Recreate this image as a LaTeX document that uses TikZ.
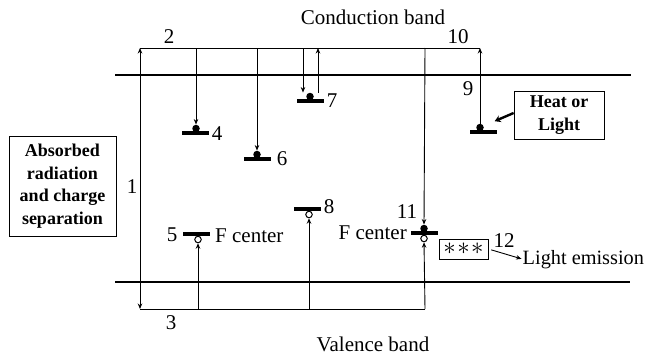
\documentclass[tikz,border=0pt]{standalone}
\usepackage{fontspec}
\setmainfont{Liberation Serif}
\usetikzlibrary{arrows.meta}
\begin{document}
\begin{tikzpicture}[x=1pt,y=-1pt,
  thin/.style={line width=0.9pt},
  arr/.style={thin,-{Stealth[length=5.5pt,width=4.5pt]}},
  dblarr/.style={thin,{Stealth[length=5.5pt,width=4.5pt]}-{Stealth[length=5.5pt,width=4.5pt]}},
  thickarr/.style={line width=2.4pt,-{Stealth[length=6pt,width=7pt]}},
  band/.style={line width=2.4pt},
  bar/.style={rectangle,fill=black,inner sep=0pt,minimum width=27pt,minimum height=3.6pt},
  edot/.style={circle,fill=black,inner sep=0pt,minimum size=7.5pt},
  hole/.style={circle,draw,fill=white,line width=1pt,inner sep=0pt,minimum size=6.5pt},
  lbl/.style={font=\fontsize{21}{24}\selectfont,inner sep=0pt},
  bbox/.style={draw,line width=0.8pt,font=\bfseries\fontsize{18}{22.5}\selectfont,align=center,inner sep=0pt}]
\useasboundingbox (0,0) rectangle (647,356);
% bands
\coordinate (cbl) at (115,75); \coordinate (cbr) at (631,75);
\coordinate (vbl) at (115,282); \coordinate (vbr) at (630,282);
\draw[band] (cbl) -- (cbr);
\draw[band] (vbl) -- (vbr);
\node[lbl,anchor=base] (cb) at (373,24) {Conduction band};
\node[lbl,anchor=base] (vb) at (373,351) {Valence band};
% transfer lines
\coordinate (t1) at (140,48); \coordinate (t10) at (480,48);
\coordinate (b1) at (140,309); \coordinate (b11) at (425,309);
\coordinate (t4) at (196,48); \coordinate (t6) at (257,48);
\coordinate (t7a) at (303,48); \coordinate (t7b) at (318,48);
\coordinate (t11) at (425,48);
\coordinate (b5) at (198,309); \coordinate (b8) at (309,309);
\draw[thin] (t1) -- (t10);
\draw[thin] (b1) -- (b11);
\draw[dblarr] (b1) -- (t1);
% levels
\node[bar] (L4) at (195,133) {};
\node[edot] (e4) at (196,128.5) {};
\node[bar] (L6) at (257,159) {};
\node[edot] (e6) at (257,154.5) {};
\node[bar] (L7) at (310,101) {};
\node[edot] (e7) at (310,96.5) {};
\node[bar] (L9) at (483,132) {};
\node[edot] (e9) at (480,127.5) {};
\node[bar] (L5) at (196,234) {};
\node[hole] (h5) at (198,239.5) {};
\node[bar] (L8) at (307,209) {};
\node[hole] (h8) at (309,214.5) {};
\node[bar] (L11) at (424,233) {};
\node[edot] (e11) at (424,228.5) {};
\node[hole] (h11) at (424,238.5) {};
% transitions
\draw[arr] (t4) -- (e4.north);
\draw[arr] (t6) -- (e6.north);
\draw[arr] (t7a) -- (t7a|-e7.north);
\draw[arr] (t7b|-e7.north) -- (t7b);
\draw[arr] (e9.north) -- (t10);
\draw[arr] (t11) -- (e11.north);
\draw[arr] (b5) -- (h5.south);
\draw[arr] (b8) -- (h8.south);
\draw[arr] (b11) -- (h11.south);
% labels
\node[lbl,anchor=base] (n2) at (169,43) {2};
\node[lbl,anchor=base] (n10) at (458,43) {10};
\node[lbl,anchor=base] (n1) at (132,193) {1};
\node[lbl,anchor=base] (n3) at (171,329) {3};
\node[lbl,anchor=base] (n4) at (217,140) {4};
\node[lbl,anchor=base] (n6) at (282,165) {6};
\node[lbl,anchor=base] (n7) at (332,107) {7};
\node[lbl,anchor=base] (n9) at (468,95) {9};
\node[lbl,anchor=base] (n5) at (172,241) {5};
\node[lbl,anchor=base west] (fc1) at (215,242) {F center};
\node[lbl,anchor=base] (n8) at (329,213) {8};
\node[lbl,anchor=base] (n11) at (407,218) {11};
\node[lbl,anchor=base east] (fc2) at (407,239) {F center};
\node[lbl,anchor=base] (n12) at (504,247) {12};
\node[lbl,anchor=base west,font=\fontsize{20.3}{24}\selectfont] (light) at (522.5,264) {Light emission};
% boxes
\node[bbox,minimum width=107pt,minimum height=100pt] (abs) at (62.5,186) {Absorbed\\radiation\\and charge\\separation};
\node[bbox,minimum width=90pt,minimum height=48pt] (heat) at (559,115) {Heat or\\Light};
\node[draw,line width=0.8pt,inner sep=0pt,minimum width=49pt,minimum height=20pt,font=\fontsize{23}{24}\selectfont] (stars) at (463.5,249) {$\ast\!\ast\!\ast$};
\draw[thickarr,shorten >=12pt] ([yshift=2pt]heat.west) -- (e9);
\draw[arr,shorten <=3pt,shorten >=1pt] (stars.east) -- (light.west);
\end{tikzpicture}
\end{document}
